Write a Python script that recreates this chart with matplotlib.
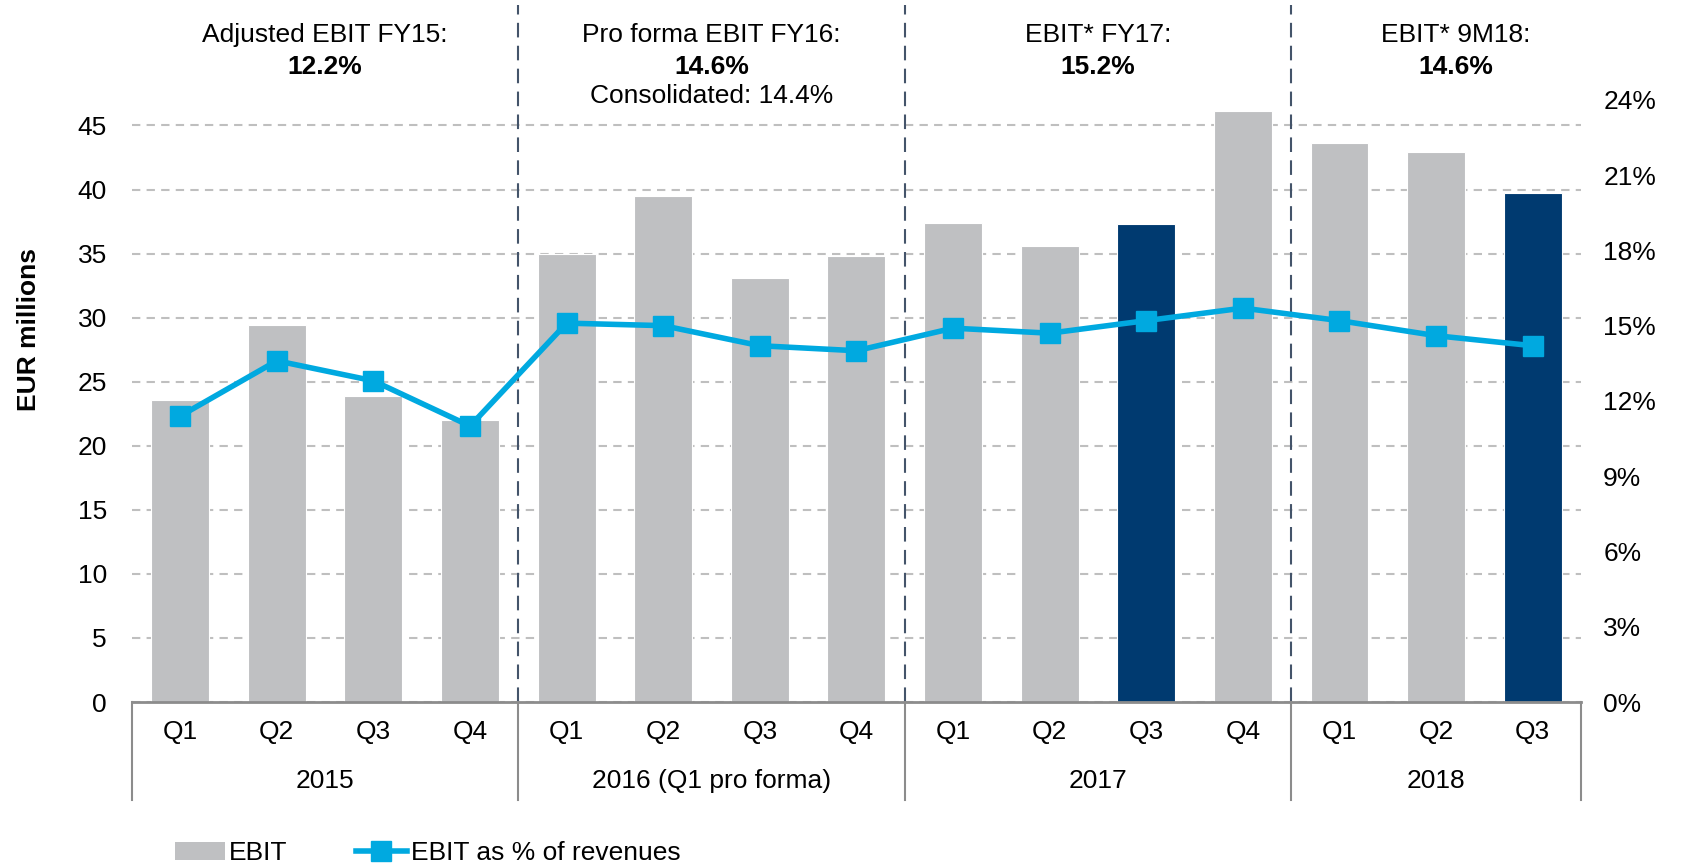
import numpy as np
import matplotlib.pyplot as plt
from matplotlib.lines import Line2D
from matplotlib.patches import Patch
import matplotlib.transforms as mtransforms

plt.rcParams['font.family'] = ['Liberation Sans', 'DejaVu Sans']
plt.rcParams['font.size'] = 19

# data
quarters = ["Q1", "Q2", "Q3", "Q4", "Q1", "Q2", "Q3", "Q4",
            "Q1", "Q2", "Q3", "Q4", "Q1", "Q2", "Q3"]
years = ["2015", "2016 (Q1 pro forma)", "2017", "2018"]
year_sizes = [4, 4, 4, 3]
ebit = [23.6, 29.4, 23.9, 22.0, 35.0, 39.5, 33.1, 34.8,
        37.4, 35.6, 37.3, 46.1, 43.6, 42.9, 39.7]
ebit_margin = [11.4, 13.6, 12.8, 11.0, 15.1, 15.0, 14.2, 14.0,
               14.9, 14.7, 15.2, 15.7, 15.2, 14.6, 14.2]
highlight = [10, 14]
headers = [("Adjusted EBIT FY15:", "12.2%", None),
           ("Pro forma EBIT FY16:", "14.6%", "Consolidated: 14.4%"),
           ("EBIT* FY17:", "15.2%", None),
           ("EBIT* 9M18:", "14.6%", None)]

grey = "#BFC0C2"
navy = "#003A70"
cyan = "#00A9E0"

fig = plt.figure(figsize=(16.83, 8.65), dpi=100)
ax = fig.add_axes([0.0784, 0.1884, 0.861, 0.6962])
x = np.arange(len(ebit))
colors = [navy if i in highlight else grey for i in x]
ax.bar(x, ebit, width=0.6, color=colors, edgecolor="white", linewidth=0.8, zorder=2)
ax.set_xlim(-0.5, len(ebit) - 0.5)
ax.set_ylim(0, 47)
ax.set_yticks(range(0, 50, 5))
ax.yaxis.grid(True, color="#BFBFBF", linestyle=(0, (4, 3)), linewidth=1.5, zorder=0)
ax.set_axisbelow(True)
for s in ["left", "right", "top"]:
    ax.spines[s].set_visible(False)
ax.spines["bottom"].set_color("#8C8C8C")
ax.spines["bottom"].set_linewidth(2)
ax.tick_params(axis="y", length=0, pad=18)
ax.tick_params(axis="x", length=0, pad=13)
ax.set_xticks(x)
ax.set_xticklabels(quarters)
ax.set_ylabel("EUR millions", fontweight="bold")
ax.yaxis.set_label_coords(-0.063, 0.618)

ax2 = ax.twinx()
ax2.plot(x, ebit_margin, color=cyan, linewidth=4, marker="s", markersize=14, zorder=3)
ax2.set_ylim(0, 24)
ax2.set_yticks(range(0, 25, 3))
ax2.set_yticklabels([f"{v}%" for v in range(0, 25, 3)])
ax2.tick_params(axis="y", length=0, pad=16)
for s in ["left", "right", "top", "bottom"]:
    ax2.spines[s].set_visible(False)

trans = mtransforms.blended_transform_factory(ax.transData, ax.transAxes)
start = 0
bounds = [-0.5]
for yr, n, hdr in zip(years, year_sizes, headers):
    end = start + n
    bounds.append(end - 0.5)
    mid = (start + end - 1) / 2
    ax.text(mid, -0.131, yr, transform=trans, ha="center", va="center")
    hx = mid + 0.2 if n == 3 else mid
    ax.text(hx, 1.107, hdr[0], transform=trans, ha="center", va="center")
    ax.text(hx, 1.055, hdr[1], transform=trans, ha="center", va="center", fontweight="bold")
    if hdr[2]:
        ax.text(hx, 1.006, hdr[2], transform=trans, ha="center", va="center")
    start = end

for i, b in enumerate(bounds):
    ax.plot([b, b], [0, -0.163], transform=trans, color="#8C8C8C", linewidth=1.5, clip_on=False)
    if 0 < i < len(bounds) - 1:
        ax.plot([b, b], [0, 1.157], transform=trans, color="#44546A", linewidth=1.5,
                linestyle=(0, (7, 4)), clip_on=False, zorder=1)

handles = [Patch(facecolor=grey, edgecolor="none"),
           Line2D([], [], color=cyan, linewidth=4, marker="s", markersize=14)]
fig.legend(handles, ["EBIT", "EBIT as % of revenues"], loc="lower left",
           bbox_to_anchor=(0.09, -0.028), ncol=2, frameon=False,
           handlelength=1.9, columnspacing=2.6, handletextpad=0.15)

fig.savefig("out.png", dpi=100)
